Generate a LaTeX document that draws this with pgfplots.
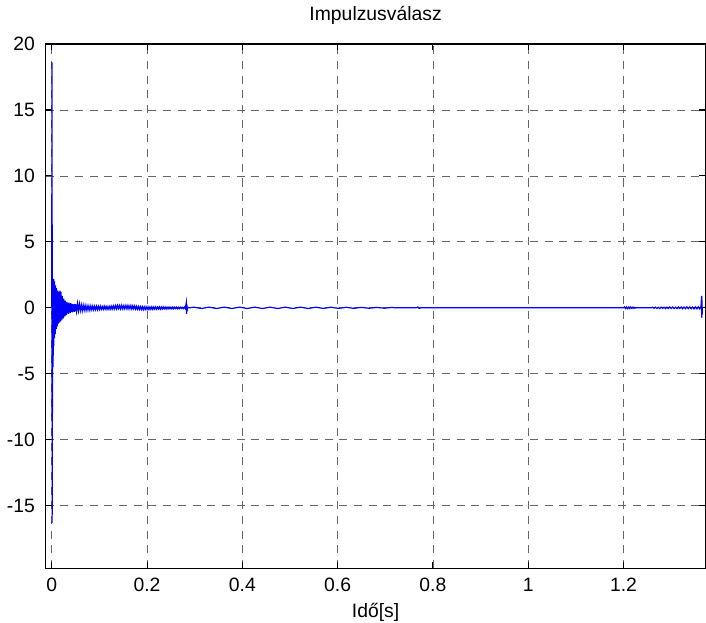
\documentclass[border=0pt]{standalone}
\usepackage{fontspec}
\setmainfont{Liberation Sans}
\usepackage{pgfplots}
\pgfplotsset{compat=1.18}

\begin{document}
\begin{tikzpicture}
\begin{axis}[
    scale only axis,
    width=494.5pt,
    height=392.8pt,
    xmin=-0.0126, xmax=1.372,
    ymin=-19.73, ymax=20,
    xtick={0,0.2,0.4,0.6,0.8,1,1.2},
    ytick={-15,-10,-5,0,5,10,15,20},
    font=\fontsize{14.5}{17}\selectfont,
    /pgf/number format/assume math mode=true,
    xticklabel style={anchor=base, inner sep=0pt, yshift=-17.5pt},
    yticklabel style={anchor=east, inner sep=0pt, xshift=-8pt},
    grid=major,
    grid style={black!60, line width=0.6pt, dash pattern=on 6pt off 5pt},
    axis line style={black, line width=0.8pt},
    tick align=inside,
    major tick length=4.5pt,
    tick style={black, line width=0.8pt},
    title={Impulzusválasz},
    title style={at={(axis description cs:0.5,1)}, anchor=base, inner sep=0pt, yshift=12pt},
    xlabel={Idő[s]},
    xlabel style={at={(axis description cs:0.5,0)}, anchor=base, inner sep=0pt, yshift=-36.75pt},
]
\addplot[blue, line width=0.9pt] coordinates {
(0,0) (0.0004,18.6) (0.0008,-16.3) (0.0012,6.3) (0.0016,-8.0)
(0.0020,2.1) (0.0024,-4.5) (0.0028,2.2) (0.0032,-3.6) (0.0036,1.9)
(0.0040,-2.9) (0.0044,2.2) (0.0048,-2.2) (0.0052,1.6) (0.0056,-2.3)
(0.0060,2.0) (0.0065,-1.8) (0.0070,1.4) (0.0075,-2.0) (0.0080,1.7)
(0.0085,-1.5) (0.0090,1.2) (0.0095,-1.6) (0.0100,1.5) (0.0106,-1.3)
(0.0112,1.0) (0.0118,-1.4) (0.0124,1.3) (0.0130,-1.1) (0.0136,0.9)
(0.0142,-1.2) (0.0148,1.2) (0.0154,-1.0) (0.0160,0.8) (0.0166,-1.1)
(0.0172,1.3) (0.0178,-0.8) (0.0184,0.7) (0.0190,-1.0) (0.0196,1.2)
(0.0202,-0.7) (0.0208,0.6) (0.0214,-0.9) (0.0220,0.9) (0.0228,-0.6)
(0.0236,0.5) (0.0244,-0.8) (0.0252,0.7) (0.0260,-0.5) (0.0268,0.45)
(0.0276,-0.65) (0.0284,0.55) (0.0292,-0.45) (0.0300,0.4) (0.031,-0.55)
(0.032,0.45) (0.033,-0.4) (0.034,0.35) (0.035,-0.45) (0.036,0.4)
(0.037,-0.35) (0.038,0.3) (0.039,-0.4) (0.040,0.35) (0.041,-0.3)
(0.042,0.3) (0.043,-0.35) (0.044,0.3) (0.045,-0.28) (0.046,0.25)
(0.047,-0.3) (0.048,0.3) (0.049,-0.25) (0.050,0.28) (0.052,-0.27)
(0.054,0.32) (0.056,-0.22) (0.058,0.3) (0.060,-0.2) (0.062,0.22)
(0.064,-0.22) (0.066,0.2) (0.068,-0.18) (0.070,0.18) (0.072,-0.2)
(0.074,0.16) (0.076,-0.17) (0.078,0.15) (0.080,-0.18) (0.082,0.14)
(0.084,-0.15) (0.086,0.13) (0.088,-0.16) (0.090,0.12) (0.092,-0.14)
(0.094,0.13) (0.096,-0.14) (0.098,0.11) (0.100,-0.13)
(0.102,0.12) (0.104,-0.11) (0.106,0.1) (0.108,-0.12) (0.110,0.13)
(0.112,-0.1) (0.114,0.11) (0.116,-0.12) (0.118,0.1) (0.120,-0.11)
(0.122,0.12) (0.124,-0.1) (0.126,0.13) (0.128,-0.09) (0.130,0.15)
(0.132,-0.08) (0.134,0.16) (0.136,-0.07) (0.138,0.18) (0.140,-0.06)
(0.142,0.17) (0.144,-0.08) (0.146,0.18) (0.148,-0.07) (0.150,0.16)
(0.152,-0.08) (0.154,0.17) (0.156,-0.06) (0.158,0.18) (0.160,-0.08)
(0.162,0.16) (0.164,-0.07) (0.166,0.17) (0.168,-0.09) (0.170,0.15)
(0.172,-0.08) (0.174,0.14) (0.176,-0.1) (0.178,0.12) (0.180,-0.11)
(0.182,0.1) (0.184,-0.12) (0.186,0.09) (0.188,-0.13) (0.190,0.08)
(0.192,-0.14) (0.194,0.07) (0.196,-0.13) (0.198,0.08) (0.200,-0.12)
(0.202,0.07) (0.204,-0.13) (0.206,0.06) (0.208,-0.12) (0.210,0.07)
(0.212,-0.11) (0.214,0.06) (0.216,-0.1) (0.218,0.07) (0.220,-0.1)
(0.222,0.06) (0.224,-0.09) (0.226,0.07) (0.228,-0.1) (0.230,0.06)
(0.232,-0.09) (0.234,0.07) (0.236,-0.08) (0.238,0.06) (0.240,-0.09)
(0.242,0.05) (0.244,-0.08) (0.246,0.06) (0.248,-0.07) (0.250,0.05)
(0.252,-0.08) (0.254,0.06) (0.256,-0.07) (0.258,0.05) (0.260,-0.06)
(0.262,0.05) (0.264,-0.07) (0.266,0.04) (0.268,-0.06) (0.270,0.05)
(0.272,-0.05) (0.274,0.04) (0.276,-0.06) (0.278,0.05) (0.280,-0.05)
(0.2825,0.42) (0.2830,-0.45) (0.2835,0.3) (0.2840,-0.2) (0.286,0.03)
(0.290,0) (0.298,0.05) (0.306,0) (0.314,-0.05) (0.322,0)
(0.330,0.05) (0.338,0) (0.346,-0.05) (0.354,0) (0.362,0.05)
(0.370,0) (0.378,-0.05) (0.386,0) (0.394,0.05) (0.402,0)
(0.410,-0.05) (0.418,0) (0.426,0.05) (0.434,0) (0.442,-0.05)
(0.450,0) (0.458,0.05) (0.466,0) (0.474,-0.05) (0.482,0)
(0.490,0.05) (0.498,0) (0.506,-0.05) (0.514,0) (0.522,0.05)
(0.530,0) (0.538,-0.05) (0.546,0) (0.554,0.045) (0.562,0)
(0.570,-0.045) (0.578,0) (0.586,0.045) (0.594,0) (0.602,-0.04)
(0.610,0) (0.618,0.04) (0.626,0) (0.634,-0.04) (0.642,0)
(0.650,0.035) (0.658,0) (0.666,-0.035) (0.674,0) (0.682,0.03)
(0.690,0) (0.698,-0.03) (0.706,0) (0.714,0.03) (0.722,0)
(0.765,0) (0.768,0.06) (0.771,-0.04) (0.775,0) (1.200,0)
(1.202,0.07) (1.204,-0.05) (1.206,0.06) (1.208,-0.06) (1.210,0.05)
(1.212,-0.05) (1.214,0.06) (1.216,-0.04) (1.218,0.05) (1.220,-0.04)
(1.222,0.04) (1.224,-0.03) (1.226,0.02) (1.228,0) (1.258,0)
(1.261,0.05) (1.264,-0.04) (1.267,0.05) (1.270,-0.05) (1.273,0.04)
(1.276,-0.05) (1.279,0.06) (1.282,-0.04) (1.285,0.05) (1.288,-0.06)
(1.291,0.05) (1.294,-0.05) (1.297,0.06) (1.300,-0.05) (1.303,0.06)
(1.306,-0.06) (1.309,0.05) (1.312,-0.06) (1.315,0.06) (1.318,-0.05)
(1.321,0.06) (1.324,-0.07) (1.327,0.06) (1.330,-0.06) (1.333,0.07)
(1.336,-0.06) (1.339,0.07) (1.342,-0.07) (1.345,0.06) (1.348,-0.08)
(1.351,0.07) (1.354,-0.08) (1.357,0.08) (1.360,-0.09) (1.3625,0.1)
(1.3640,0.9) (1.3644,-0.76) (1.3648,0.6) (1.3652,-0.5) (1.3653,0)
};
\end{axis}
\path[use as bounding box] ([xshift=-34.3pt,yshift=-40.5pt]current axis.south west)
    rectangle ([xshift=0.4pt,yshift=33pt]current axis.north east);
\end{tikzpicture}
\end{document}
